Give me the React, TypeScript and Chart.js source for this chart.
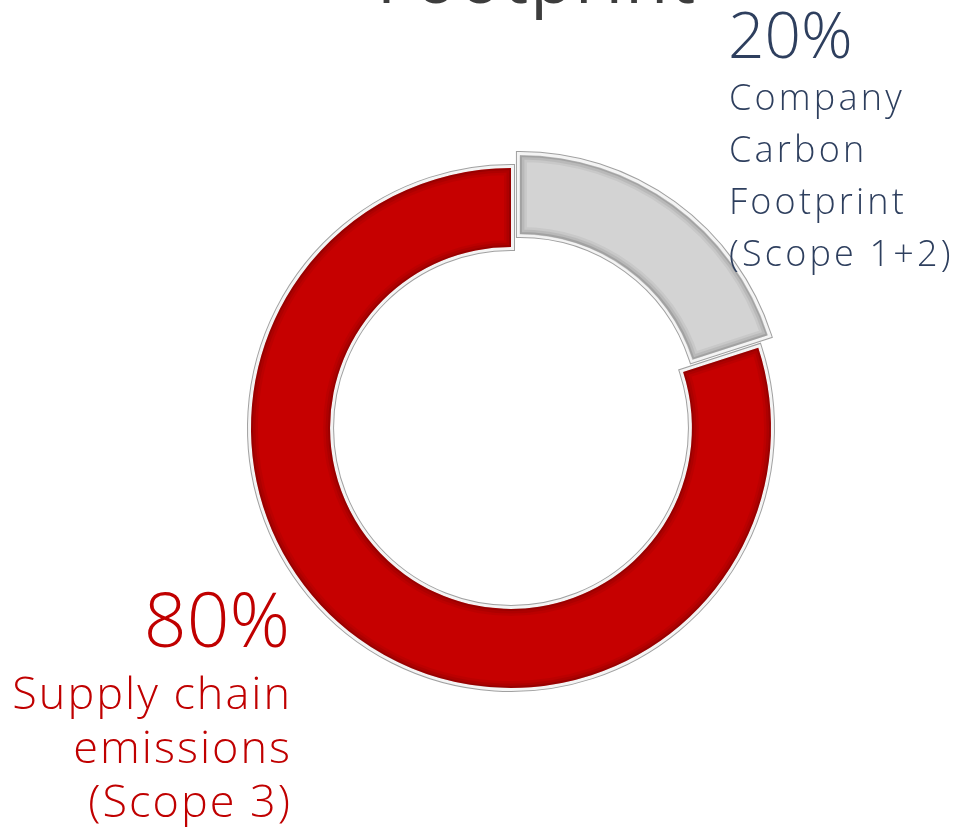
import React, { useEffect, useRef } from 'react';
import { Chart, registerables } from 'chart.js';

Chart.register(...registerables);

const segmentLabels = ['Company Carbon Footprint (Scope 1+2)', 'Supply chain emissions (Scope 3)'];
const segmentValues = [20, 80];
const segmentColors = ['#D3D3D3', '#C60000'];
const segmentOffsets = [58, 0];

const titleText = 'Footprint';
const scope12Percent = '20%';
const scope12Lines = ['Company', 'Carbon', 'Footprint', '(Scope 1+2)'];
const scope3Percent = '80%';
const scope3Lines = ['Supply chain', 'emissions', '(Scope 3)'];

const FONT = '"Open Sans", "DejaVu Sans", sans-serif';

function arcGeom(el: any) {
  const p = el.getProps(['x', 'y', 'startAngle', 'endAngle', 'innerRadius', 'outerRadius']);
  const off = (el.options.offset || 0) / 4;
  const circ = p.endAngle - p.startAngle;
  const fix = 1 - Math.sin(Math.min(Math.PI, circ));
  const ro = off * fix;
  const half = (p.startAngle + p.endAngle) / 2;
  const t = off + ro;
  return {
    cx: p.x + Math.cos(half) * t,
    cy: p.y + Math.sin(half) * t,
    outer: p.outerRadius + ro,
    inner: p.innerRadius + ro,
    s: p.startAngle,
    e: p.endAngle,
  };
}

function tracePath(ctx: CanvasRenderingContext2D, g: any) {
  ctx.beginPath();
  ctx.arc(g.cx, g.cy, g.outer, g.s, g.e);
  ctx.arc(g.cx, g.cy, g.inner, g.e, g.s, true);
  ctx.closePath();
}

const bevelPlugin = {
  id: 'bevel',
  beforeDatasetsDraw(chart: any) {
    const ctx = chart.ctx as CanvasRenderingContext2D;
    const meta = chart.getDatasetMeta(0);
    ctx.save();
    ctx.lineJoin = 'miter';
    meta.data.forEach((el: any) => {
      const g = arcGeom(el);
      tracePath(ctx, g);
      ctx.lineWidth = 8;
      ctx.strokeStyle = 'rgba(150,150,150,0.9)';
      ctx.stroke();
      tracePath(ctx, g);
      ctx.lineWidth = 6;
      ctx.strokeStyle = '#f4f4f4';
      ctx.stroke();
    });
    ctx.restore();
  },
  afterDatasetsDraw(chart: any) {
    const ctx = chart.ctx as CanvasRenderingContext2D;
    const meta = chart.getDatasetMeta(0);
    meta.data.forEach((el: any) => {
      const g = arcGeom(el);
      ctx.save();
      tracePath(ctx, g);
      ctx.clip();
      tracePath(ctx, g);
      ctx.lineWidth = 14;
      ctx.strokeStyle = 'rgba(0,0,0,0.05)';
      ctx.stroke();
      ctx.lineWidth = 9;
      ctx.strokeStyle = 'rgba(0,0,0,0.07)';
      ctx.stroke();
      ctx.lineWidth = 4;
      ctx.strokeStyle = 'rgba(0,0,0,0.12)';
      ctx.stroke();
      ctx.restore();
    });
  },
};

function drawLines(ctx: CanvasRenderingContext2D, lines: string[], x: number, y0: number, step: number) {
  lines.forEach((l, i) => ctx.fillText(l, x, y0 + i * step));
}

const textPlugin = {
  id: 'texts',
  afterDraw(chart: any) {
    const ctx = chart.ctx as any;
    ctx.save();
    ctx.textBaseline = 'alphabetic';

    // cut-off title
    ctx.fillStyle = '#3d3d3d';
    ctx.font = `400 70px ${FONT}`;
    ctx.textAlign = 'center';
    ctx.letterSpacing = '2px';
    ctx.fillText(titleText, 537, 3);

    // scope 1+2
    ctx.fillStyle = '#2E3F5E';
    ctx.textAlign = 'left';
    ctx.font = `300 64px ${FONT}`;
    ctx.letterSpacing = '0px';
    ctx.fillText(scope12Percent, 728, 58);
    ctx.font = `300 36px ${FONT}`;
    ctx.letterSpacing = '3.2px';
    drawLines(ctx, scope12Lines, 729, 110, 52);

    // scope 3
    ctx.fillStyle = '#C00000';
    ctx.textAlign = 'right';
    ctx.font = `300 75px ${FONT}`;
    ctx.letterSpacing = '0px';
    ctx.fillText(scope3Percent, 290, 647);
    ctx.font = `300 45px ${FONT}`;
    ctx.letterSpacing = '2px';
    drawLines(ctx, scope3Lines, 292, 709, 54);
    ctx.restore();
  },
};

export default function App() {
  const ref = useRef<HTMLCanvasElement | null>(null);
  useEffect(() => {
    document.body.style.margin = '0';
    const canvas = ref.current;
    if (!canvas) return;
    const chart = new Chart(canvas, {
      type: 'doughnut',
      data: {
        labels: segmentLabels,
        datasets: [
          {
            data: segmentValues,
            backgroundColor: segmentColors,
            offset: segmentOffsets,
            borderWidth: 0,
          },
        ],
      },
      options: {
        responsive: false,
        animation: false,
        radius: 260,
        cutout: '69.6%',
        layout: { padding: { left: 69, right: 0, top: 22, bottom: 0 } },
        plugins: {
          legend: { display: false },
          tooltip: { enabled: false },
          title: { display: false },
        },
        events: [],
      },
      plugins: [bevelPlugin, textPlugin],
    });
    return () => chart.destroy();
  }, []);
  return (
    <div style={{ position: 'relative', width: 953, height: 834, background: '#fff' }}>
      <canvas ref={ref} width={953} height={834} style={{ display: 'block' }} />
    </div>
  );
}
